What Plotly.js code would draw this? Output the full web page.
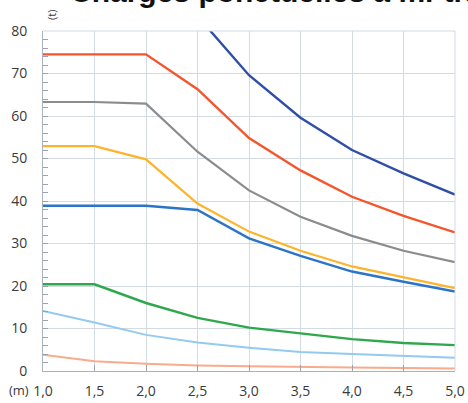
<!DOCTYPE html>
<html>
<head>
<meta charset="utf-8">
<script src="https://cdn.plot.ly/plotly-3.0.1.min.js"></script>
<style>html,body{margin:0;padding:0;background:#fff;}#chart{width:468px;height:403px;}</style>
</head>
<body>
<div id="chart"></div>
<script>
const spans = [1.0, 1.5, 2.0, 2.5, 3.0, 3.5, 4.0, 4.5, 5.0];
const xTickText = ["1,0", "1,5", "2,0", "2,5", "3,0", "3,5", "4,0", "4,5", "5,0"];
const yTickVals = [0, 10, 20, 30, 40, 50, 60, 70, 80];

const darkBlue = [null, null, null, 83.5, 69.6, 59.6, 52.0, 46.5, 41.5];
const red      = [74.5, 74.5, 74.5, 66.3, 54.8, 47.2, 41.0, 36.5, 32.6];
const gray     = [63.3, 63.3, 62.9, 51.6, 42.5, 36.3, 31.8, 28.3, 25.6];
const orange   = [52.9, 52.9, 49.8, 39.4, 32.8, 28.3, 24.6, 22.0, 19.5];
const blue     = [38.9, 38.9, 38.9, 37.9, 31.2, 27.1, 23.4, 21.0, 18.7];
const green    = [20.4, 20.4, 16.0, 12.5, 10.2, 8.8, 7.5, 6.6, 6.1];
const lightBlue= [14.1, 11.4, 8.5, 6.7, 5.5, 4.5, 4.0, 3.5, 3.1];
const salmon   = [3.8, 2.3, 1.7, 1.3, 1.1, 0.9, 0.8, 0.7, 0.6];

const seriesList = [
  {y: darkBlue, color: '#2f4fa6', w: 2.4},
  {y: red, color: '#f4552c', w: 2.4},
  {y: gray, color: '#8c8c8c', w: 2.2},
  {y: orange, color: '#fdb42c', w: 2.2},
  {y: blue, color: '#2c74c9', w: 2.4},
  {y: green, color: '#2fa84c', w: 2.4},
  {y: lightBlue, color: '#93caf0', w: 2},
  {y: salmon, color: '#f9ab8c', w: 2}
];

const traces = seriesList.map(s => ({
  x: spans, y: s.y, type: 'scatter', mode: 'lines',
  line: {color: s.color, width: s.w},
  connectgaps: false, hoverinfo: 'skip', showlegend: false
}));

const tickFont = {size: 14, color: '#3a3a3a', family: 'Open Sans, sans-serif'};

const layout = {
  width: 468, height: 403,
  margin: {l: 43, r: 13, t: 31, b: 32},
  paper_bgcolor: '#ffffff', plot_bgcolor: '#ffffff',
  font: {family: 'Open Sans, Liberation Sans, sans-serif', color: '#333333'},
  showlegend: false,
  xaxis: {
    range: [1.0, 5.0], tickvals: spans, ticktext: xTickText,
    showgrid: true, gridcolor: '#d3dae2', gridwidth: 1,
    showline: true, linecolor: '#a9b2bc', linewidth: 1,
    ticks: 'inside', ticklen: 6, tickcolor: '#9aa3ad', ticklabelstandoff: 7,
    tickfont: tickFont,
    zeroline: false, fixedrange: true
  },
  yaxis: {
    range: [0, 80], tickvals: yTickVals,
    showgrid: true, gridcolor: '#d3dae2', gridwidth: 1,
    showline: true, linecolor: '#a9b2bc', linewidth: 1,
    ticks: 'inside', ticklen: 5, tickcolor: '#9aa3ad', ticklabelstandoff: 12,
    minor: {dtick: 2, ticks: 'inside', ticklen: 5, tickcolor: '#9aa3ad', showgrid: false},
    tickfont: tickFont,
    zeroline: false, fixedrange: true
  },
  shapes: [
    {type: 'line', xref: 'paper', yref: 'paper', x0: 0, x1: 1, y0: 1, y1: 1, line: {color: '#d3dae2', width: 1}},
    {type: 'line', xref: 'paper', yref: 'paper', x0: 1, x1: 1, y0: 0, y1: 1, line: {color: '#d3dae2', width: 1}}
  ],
  annotations: [
    {text: '<b>Charges ponctuelles à mi-travée</b>', xref: 'paper', yref: 'paper',
     x: (68 - 43) / 412, xanchor: 'left', y: 1 + (31 - 10) / 340, yanchor: 'bottom',
     showarrow: false, font: {size: 30, color: '#111111', family: 'Liberation Sans, Arial, sans-serif'}},
    {text: '(t)', xref: 'paper', yref: 'paper', x: (52 - 43) / 412, xanchor: 'center',
     y: 1 + (31 - 15) / 340, yanchor: 'middle', textangle: -90,
     showarrow: false, font: {size: 11, color: '#3a3a3a', family: 'Open Sans, sans-serif'}},
    {text: '(m)', xref: 'paper', yref: 'paper', x: (31 - 43) / 412, xanchor: 'right',
     y: -(390 - 371) / 340, yanchor: 'middle',
     showarrow: false, font: {size: 13, color: '#3a3a3a', family: 'Open Sans, sans-serif'}}
  ]
};

Plotly.newPlot('chart', traces, layout, {displayModeBar: false, staticPlot: true});
</script>
</body>
</html>
